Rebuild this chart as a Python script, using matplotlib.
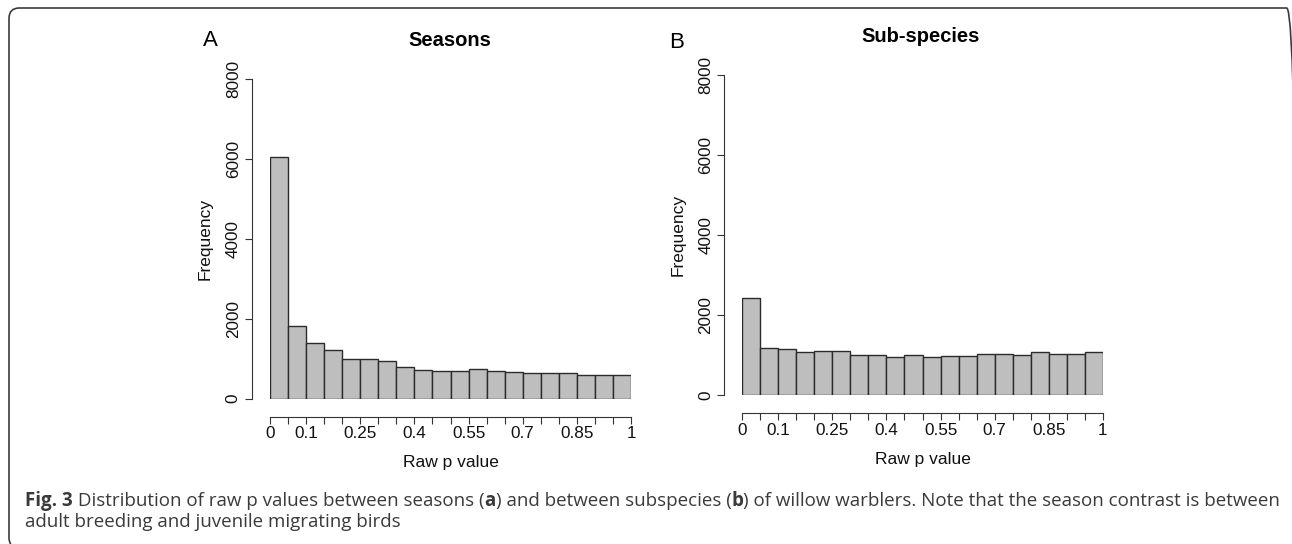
import numpy as np
import matplotlib
matplotlib.use("Agg")
import matplotlib.pyplot as plt
from matplotlib.patches import FancyBboxPatch

# bin counts (bins of width 0.05 from 0 to 1)
bin_left = np.arange(20) * 0.05
seasons_counts = [6050, 1810, 1390, 1225, 1005, 985, 950, 800, 725, 700,
                  700, 735, 685, 660, 635, 650, 650, 600, 600, 600]
subspecies_counts = [2435, 1175, 1140, 1075, 1090, 1090, 990, 990, 950, 990,
                     950, 975, 975, 1015, 1015, 990, 1065, 1015, 1015, 1065]

x_ticks = np.arange(21) * 0.05
x_tick_labels = ["0", "", "0.1", "", "", "0.25", "", "", "0.4", "", "", "0.55",
                 "", "", "0.7", "", "", "0.85", "", "", "1"]
y_ticks = [0, 2000, 4000, 6000, 8000]

caption_line1 = [("Fig. 3", "bold"),
                 (" Distribution of raw p values between seasons (", "normal"),
                 ("a", "bold"),
                 (") and between subspecies (", "normal"),
                 ("b", "bold"),
                 (") of willow warblers. Note that the season contrast is between", "normal")]
caption_line2 = "adult breeding and juvenile migrating birds"

W, H = 1292, 544
plt.rcParams['font.family'] = ['Liberation Sans', 'DejaVu Sans']
fig = plt.figure(figsize=(W / 100, H / 100), dpi=100)


def px_axes(left, right, top, bottom):
    return fig.add_axes([left / W, 1 - bottom / H, (right - left) / W, (bottom - top) / H])


def draw_hist(ax, counts):
    ax.bar(bin_left, counts, width=0.05, align="edge", color="#bebebe",
           edgecolor="#2b2b2b", linewidth=1.0)
    ax.set_xlim(0, 1)
    ax.set_ylim(0, 8000)
    for s in ["top", "right"]:
        ax.spines[s].set_visible(False)
    ax.spines["left"].set_position(("outward", 13))
    ax.spines["bottom"].set_position(("outward", 13))
    ax.spines["left"].set_bounds(0, 8000)
    ax.spines["bottom"].set_bounds(0, 1)
    for s in ["left", "bottom"]:
        ax.spines[s].set_color("#333333")
        ax.spines[s].set_linewidth(0.8)
    ax.set_xticks(x_ticks)
    ax.set_xticklabels(x_tick_labels)
    ax.set_yticks(y_ticks)
    ax.set_yticklabels([str(v) for v in y_ticks], rotation=90, va="center")
    ax.tick_params(axis="both", length=5, width=0.8, color="#333333",
                   labelsize=12.3, labelcolor="#111111")
    ax.tick_params(axis="x", pad=2)
    ax.tick_params(axis="y", pad=3)
    ax.set_xlabel("Raw p value", fontsize=12.5, color="#111111", labelpad=10)
    ax.set_ylabel("Frequency", fontsize=12.5, color="#111111")
    ax.yaxis.set_label_coords(-0.158, 0.5)


ax_a = px_axes(270, 631, 79, 398.7)
draw_hist(ax_a, seasons_counts)
ax_b = px_axes(742.3, 1102.7, 75, 395)
draw_hist(ax_b, subspecies_counts)

# panel letters and titles
fig.text(210 / W, 1 - 41 / H, "A", fontsize=16, ha="center", va="center")
fig.text(677 / W, 1 - 42 / H, "B", fontsize=16, ha="center", va="center")
fig.text(450 / W, 1 - 40 / H, "Seasons", fontsize=14.5, fontweight="bold",
         ha="center", va="center")
fig.text(921 / W, 1 - 36 / H, "Sub-species", fontsize=14.5, fontweight="bold",
         ha="center", va="center")

# caption with bold pieces, placed one after another
renderer = fig.canvas.get_renderer()
cap_font = ["Open Sans", "DejaVu Sans"]
cap_size = 13.5
x = 25 / W
for txt, weight in caption_line1:
    t = fig.text(x, 1 - 501 / H, txt, fontsize=cap_size, fontweight=weight,
                 family=cap_font, color="#3a3a3a", va="center")
    x += t.get_window_extent(renderer).width / W
fig.text(25 / W, 1 - 522 / H, caption_line2, fontsize=cap_size,
         family=cap_font, color="#3a3a3a", va="center")

# rounded frame around the figure (right and bottom sides run off the image)
frame = FancyBboxPatch((9 / W, -4 / H), 1288 / W, 540 / H,
                       boxstyle="round,pad=0,rounding_size=0.008",
                       mutation_aspect=W / H,
                       transform=fig.transFigure, fill=False,
                       edgecolor="#3c3c3c", linewidth=1.2)
fig.add_artist(frame)

fig.savefig("out.png", dpi=100)
